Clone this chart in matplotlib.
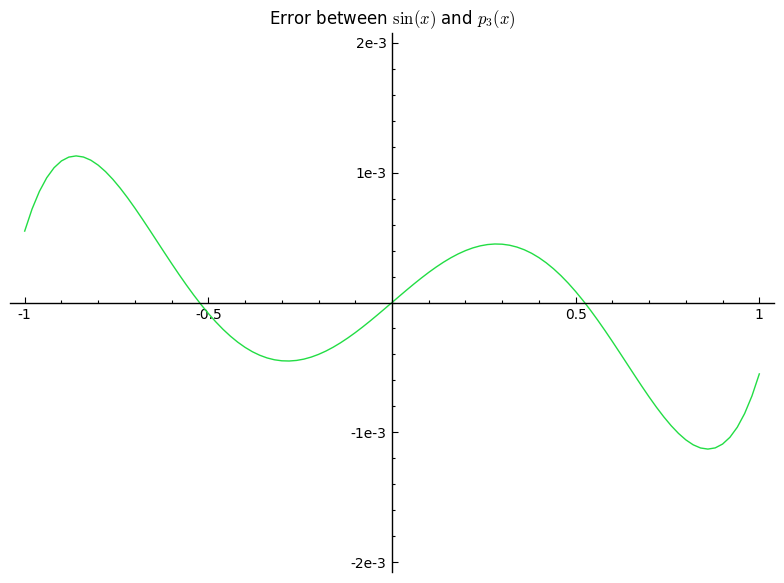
import numpy as np
import matplotlib
matplotlib.use("Agg")
import matplotlib.pyplot as plt
from matplotlib.ticker import MultipleLocator

# error values, in units of 1e-6, for x = 0, 0.02, ..., 1
x_pos = [0.00, 0.02, 0.04, 0.06, 0.08, 0.10, 0.12, 0.14, 0.16, 0.18,
         0.20, 0.22, 0.24, 0.26, 0.28, 0.30, 0.32, 0.34, 0.36, 0.38,
         0.40, 0.42, 0.44, 0.46, 0.48, 0.50, 0.52, 0.54, 0.56, 0.58,
         0.60, 0.62, 0.64, 0.66, 0.68, 0.70, 0.72, 0.74, 0.76, 0.78,
         0.80, 0.82, 0.84, 0.86, 0.88, 0.90, 0.92, 0.94, 0.96, 0.98, 1.00]
err_pos = [0.0, 48.5, 96.5, 143.5, 188.8, 232.1, 272.7, 310.3, 344.3, 374.3,
           399.9, 420.7, 436.4, 446.5, 450.9, 449.3, 441.5, 427.3, 406.6, 379.5,
           345.8, 305.7, 259.3, 206.8, 148.4, 84.5, 15.5, -58.1, -135.8, -216.9,
           -300.6, -386.3, -472.8, -559.4, -644.7, -727.8, -807.2, -881.5, -949.3, -1008.9,
           -1058.7, -1096.8, -1121.1, -1129.7, -1120.5, -1090.9, -1038.8, -961.4, -856.0, -720.0,
           -550.3]
x_neg = [-1.00, -0.98, -0.96, -0.94, -0.92, -0.90, -0.88, -0.86, -0.84, -0.82,
         -0.80, -0.78, -0.76, -0.74, -0.72, -0.70, -0.68, -0.66, -0.64, -0.62,
         -0.60, -0.58, -0.56, -0.54, -0.52, -0.50, -0.48, -0.46, -0.44, -0.42,
         -0.40, -0.38, -0.36, -0.34, -0.32, -0.30, -0.28, -0.26, -0.24, -0.22,
         -0.20, -0.18, -0.16, -0.14, -0.12, -0.10, -0.08, -0.06, -0.04, -0.02]
err_neg = [550.3, 720.0, 856.0, 961.4, 1038.8, 1090.9, 1120.5, 1129.7, 1121.1, 1096.8,
           1058.7, 1008.9, 949.3, 881.5, 807.2, 727.8, 644.7, 559.4, 472.8, 386.3,
           300.6, 216.9, 135.8, 58.1, -15.5, -84.5, -148.4, -206.8, -259.3, -305.7,
           -345.8, -379.5, -406.6, -427.3, -441.5, -449.3, -450.9, -446.5, -436.4, -420.7,
           -399.9, -374.3, -344.3, -310.3, -272.7, -232.1, -188.8, -143.5, -96.5, -48.5]

x_ticks = [-1, -0.5, 0.5, 1]
x_ticklabels = ["-1", "-0.5", "0.5", "1"]
y_ticks = [-2e-3, -1e-3, 1e-3, 2e-3]
y_ticklabels = ["-2e-3", "-1e-3", "1e-3", "2e-3"]

x = np.array(x_neg + x_pos)
y = np.array(err_neg + err_pos) * 1e-6

plt.rcParams["mathtext.fontset"] = "cm"
plt.rcParams["font.family"] = "DejaVu Sans"

fig = plt.figure(figsize=(7.84, 5.83), dpi=100)
ax = fig.add_axes([10/784, 1 - 572.4/583, 764/784, 539.8/583])
ax.plot(x, y, color="#22dd44", lw=1.0)

ax.set_xlim(-1.04, 1.04)
ax.set_ylim(-2.08e-3, 2.08e-3)

for s in ["top", "right"]:
    ax.spines[s].set_visible(False)
ax.spines["left"].set_position(("data", 0))
ax.spines["bottom"].set_position(("data", 0))
ax.spines["left"].set_linewidth(1.0)
ax.spines["bottom"].set_linewidth(1.0)

ax.set_xticks(x_ticks)
ax.set_xticklabels(x_ticklabels)
ax.set_yticks(y_ticks)
ax.set_yticklabels(y_ticklabels)
ax.xaxis.set_minor_locator(MultipleLocator(0.1))
ax.yaxis.set_minor_locator(MultipleLocator(0.2e-3))
ax.tick_params(which="major", direction="in", length=4, width=0.8, labelsize=10, pad=4)
ax.tick_params(which="minor", direction="in", length=2, width=0.8)
ax.patch.set_visible(False)

fig.text(0.5, 1 - 20/583, r"Error between $\sin(x)$ and $p_3(x)$",
         ha="center", va="center", fontsize=12)

fig.savefig("out.png", dpi=100)
